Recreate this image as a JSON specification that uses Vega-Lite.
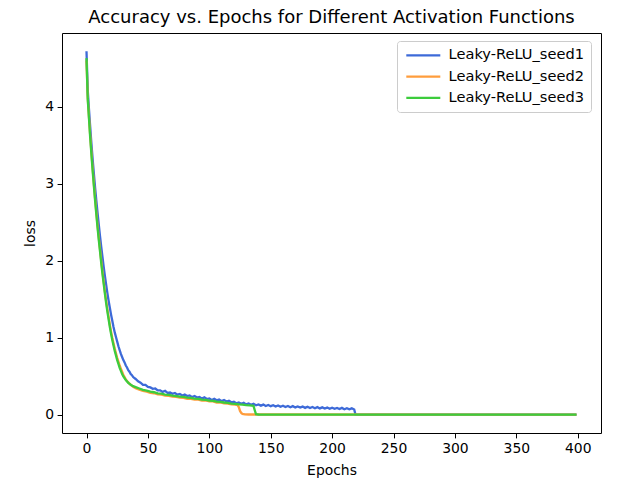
{
  "$schema": "https://vega.github.io/schema/vega-lite/v6.json",
  "width": 539,
  "height": 400,
  "autosize": "none",
  "padding": {"left": 62, "top": 33, "right": 27, "bottom": 50},
  "background": "white",
  "title": {
    "text": "Accuracy vs. Epochs for Different Activation Functions",
    "font": "DejaVu Sans",
    "fontSize": 18,
    "fontWeight": "normal",
    "color": "black",
    "anchor": "middle",
    "offset": 6
  },
  "datasets": {
    "s1": [
      {"epoch":0,"loss":4.72},{"epoch":1,"loss":4.22},{"epoch":2,"loss":3.97},{"epoch":3,"loss":3.74},{"epoch":4,"loss":3.52},{"epoch":5,"loss":3.32},{"epoch":6,"loss":3.13},{"epoch":7,"loss":2.95},{"epoch":8,"loss":2.78},{"epoch":9,"loss":2.62},{"epoch":10,"loss":2.47},{"epoch":11,"loss":2.32},{"epoch":12,"loss":2.18},{"epoch":13,"loss":2.05},{"epoch":14,"loss":1.92},{"epoch":15,"loss":1.8},{"epoch":16,"loss":1.69},{"epoch":17,"loss":1.58},{"epoch":18,"loss":1.48},{"epoch":19,"loss":1.39},{"epoch":20,"loss":1.3},{"epoch":21,"loss":1.22},{"epoch":22,"loss":1.14},{"epoch":23,"loss":1.07},{"epoch":24,"loss":1.01},{"epoch":25,"loss":0.95},{"epoch":26,"loss":0.89},{"epoch":27,"loss":0.84},{"epoch":28,"loss":0.79},{"epoch":29,"loss":0.75},{"epoch":30,"loss":0.71},{"epoch":31,"loss":0.68},{"epoch":32,"loss":0.64},{"epoch":33,"loss":0.615},{"epoch":34,"loss":0.58},{"epoch":35,"loss":0.56},{"epoch":36,"loss":0.53},{"epoch":37,"loss":0.515},{"epoch":38,"loss":0.49},
      {"epoch":40,"loss":0.465},{"epoch":42,"loss":0.435},{"epoch":44,"loss":0.418},{"epoch":46,"loss":0.39},{"epoch":48,"loss":0.388},{"epoch":50,"loss":0.362},{"epoch":52,"loss":0.356},{"epoch":54,"loss":0.338},{"epoch":56,"loss":0.342},{"epoch":58,"loss":0.318},{"epoch":60,"loss":0.318},{"epoch":62,"loss":0.298},{"epoch":64,"loss":0.312},{"epoch":66,"loss":0.285},{"epoch":68,"loss":0.289},{"epoch":70,"loss":0.272},{"epoch":72,"loss":0.283},{"epoch":74,"loss":0.262},{"epoch":76,"loss":0.271},{"epoch":78,"loss":0.25},{"epoch":80,"loss":0.262},{"epoch":82,"loss":0.243},{"epoch":84,"loss":0.251},{"epoch":86,"loss":0.23},{"epoch":88,"loss":0.244},{"epoch":90,"loss":0.224},{"epoch":92,"loss":0.231},{"epoch":94,"loss":0.21},{"epoch":96,"loss":0.226},{"epoch":98,"loss":0.205},{"epoch":100,"loss":0.212},{"epoch":102,"loss":0.193},{"epoch":104,"loss":0.208},{"epoch":106,"loss":0.188},{"epoch":108,"loss":0.198},{"epoch":110,"loss":0.178},{"epoch":112,"loss":0.191},{"epoch":114,"loss":0.172},{"epoch":116,"loss":0.183},{"epoch":118,"loss":0.163},{"epoch":120,"loss":0.17},{"epoch":122,"loss":0.15},{"epoch":124,"loss":0.16},{"epoch":126,"loss":0.143},{"epoch":128,"loss":0.155},{"epoch":130,"loss":0.135},{"epoch":132,"loss":0.148},{"epoch":134,"loss":0.13},{"epoch":136,"loss":0.142},{"epoch":138,"loss":0.124},{"epoch":140,"loss":0.135},{"epoch":142,"loss":0.119},{"epoch":144,"loss":0.133},{"epoch":146,"loss":0.114},{"epoch":148,"loss":0.127},{"epoch":150,"loss":0.112},{"epoch":152,"loss":0.124},{"epoch":154,"loss":0.107},{"epoch":156,"loss":0.122},{"epoch":158,"loss":0.104},{"epoch":160,"loss":0.117},{"epoch":162,"loss":0.102},{"epoch":164,"loss":0.115},{"epoch":166,"loss":0.098},{"epoch":168,"loss":0.113},{"epoch":170,"loss":0.096},{"epoch":172,"loss":0.109},{"epoch":174,"loss":0.094},{"epoch":176,"loss":0.107},{"epoch":178,"loss":0.09},{"epoch":180,"loss":0.105},{"epoch":182,"loss":0.089},{"epoch":184,"loss":0.101},{"epoch":186,"loss":0.086},{"epoch":188,"loss":0.1},{"epoch":190,"loss":0.083},{"epoch":192,"loss":0.097},{"epoch":194,"loss":0.082},{"epoch":196,"loss":0.094},{"epoch":198,"loss":0.078},{"epoch":200,"loss":0.093},{"epoch":202,"loss":0.079},{"epoch":204,"loss":0.09},{"epoch":206,"loss":0.075},{"epoch":208,"loss":0.09},{"epoch":210,"loss":0.073},{"epoch":212,"loss":0.086},{"epoch":214,"loss":0.071},{"epoch":216,"loss":0.084},{"epoch":218,"loss":0.068},{"epoch":219,"loss":0.004},{"epoch":220,"loss":0.003},{"epoch":399,"loss":0.003}
    ],
    "s2": [
      {"epoch":0,"loss":4.6},{"epoch":1,"loss":4.12},{"epoch":2,"loss":3.87},{"epoch":3,"loss":3.63},{"epoch":4,"loss":3.41},{"epoch":5,"loss":3.2},{"epoch":6,"loss":3.0},{"epoch":7,"loss":2.81},{"epoch":8,"loss":2.63},{"epoch":9,"loss":2.46},{"epoch":10,"loss":2.3},{"epoch":11,"loss":2.15},{"epoch":12,"loss":2.0},{"epoch":13,"loss":1.86},{"epoch":14,"loss":1.73},{"epoch":15,"loss":1.6},{"epoch":16,"loss":1.48},{"epoch":17,"loss":1.37},{"epoch":18,"loss":1.27},{"epoch":19,"loss":1.17},{"epoch":20,"loss":1.08},{"epoch":21,"loss":1.0},{"epoch":22,"loss":0.93},{"epoch":23,"loss":0.86},{"epoch":24,"loss":0.8},{"epoch":25,"loss":0.74},{"epoch":26,"loss":0.69},{"epoch":27,"loss":0.64},{"epoch":28,"loss":0.6},{"epoch":29,"loss":0.56},{"epoch":30,"loss":0.52},{"epoch":32,"loss":0.46},{"epoch":34,"loss":0.42},{"epoch":36,"loss":0.39},{"epoch":38,"loss":0.365},{"epoch":40,"loss":0.345},{"epoch":43,"loss":0.325},{"epoch":46,"loss":0.31},{"epoch":49,"loss":0.3},{"epoch":52,"loss":0.286},{"epoch":55,"loss":0.28},{"epoch":58,"loss":0.266},{"epoch":61,"loss":0.262},{"epoch":64,"loss":0.25},{"epoch":67,"loss":0.247},{"epoch":70,"loss":0.236},{"epoch":73,"loss":0.232},{"epoch":76,"loss":0.222},{"epoch":79,"loss":0.22},{"epoch":82,"loss":0.207},{"epoch":85,"loss":0.206},{"epoch":88,"loss":0.197},{"epoch":91,"loss":0.196},{"epoch":94,"loss":0.186},{"epoch":97,"loss":0.186},{"epoch":100,"loss":0.175},{"epoch":103,"loss":0.174},{"epoch":106,"loss":0.158},{"epoch":109,"loss":0.16},{"epoch":112,"loss":0.15},{"epoch":115,"loss":0.146},{"epoch":118,"loss":0.136},{"epoch":121,"loss":0.131},{"epoch":123,"loss":0.125},{"epoch":124,"loss":0.1},{"epoch":125,"loss":0.05},{"epoch":126,"loss":0.025},{"epoch":127,"loss":0.012},{"epoch":129,"loss":0.006},{"epoch":132,"loss":0.004},{"epoch":399,"loss":0.003}
    ],
    "s3": [
      {"epoch":0,"loss":4.63},{"epoch":1,"loss":4.1},{"epoch":2,"loss":3.85},{"epoch":3,"loss":3.6},{"epoch":4,"loss":3.38},{"epoch":5,"loss":3.17},{"epoch":6,"loss":2.97},{"epoch":7,"loss":2.78},{"epoch":8,"loss":2.6},{"epoch":9,"loss":2.43},{"epoch":10,"loss":2.27},{"epoch":11,"loss":2.12},{"epoch":12,"loss":1.97},{"epoch":13,"loss":1.83},{"epoch":14,"loss":1.7},{"epoch":15,"loss":1.57},{"epoch":16,"loss":1.45},{"epoch":17,"loss":1.34},{"epoch":18,"loss":1.24},{"epoch":19,"loss":1.14},{"epoch":20,"loss":1.05},{"epoch":21,"loss":0.97},{"epoch":22,"loss":0.9},{"epoch":23,"loss":0.83},{"epoch":24,"loss":0.77},{"epoch":25,"loss":0.71},{"epoch":26,"loss":0.66},{"epoch":27,"loss":0.61},{"epoch":28,"loss":0.57},{"epoch":29,"loss":0.53},{"epoch":30,"loss":0.5},{"epoch":32,"loss":0.45},{"epoch":34,"loss":0.415},{"epoch":36,"loss":0.39},{"epoch":38,"loss":0.372},{"epoch":40,"loss":0.36},{"epoch":43,"loss":0.342},{"epoch":46,"loss":0.325},{"epoch":49,"loss":0.314},{"epoch":52,"loss":0.3},{"epoch":55,"loss":0.293},{"epoch":58,"loss":0.278},{"epoch":61,"loss":0.274},{"epoch":64,"loss":0.262},{"epoch":67,"loss":0.259},{"epoch":70,"loss":0.248},{"epoch":73,"loss":0.244},{"epoch":76,"loss":0.235},{"epoch":79,"loss":0.232},{"epoch":82,"loss":0.222},{"epoch":85,"loss":0.219},{"epoch":88,"loss":0.21},{"epoch":91,"loss":0.207},{"epoch":94,"loss":0.198},{"epoch":97,"loss":0.194},{"epoch":100,"loss":0.185},{"epoch":103,"loss":0.182},{"epoch":106,"loss":0.172},{"epoch":109,"loss":0.168},{"epoch":112,"loss":0.16},{"epoch":115,"loss":0.155},{"epoch":118,"loss":0.146},{"epoch":121,"loss":0.143},{"epoch":124,"loss":0.135},{"epoch":127,"loss":0.133},{"epoch":130,"loss":0.125},{"epoch":133,"loss":0.122},{"epoch":136,"loss":0.116},{"epoch":137,"loss":0.06},{"epoch":138,"loss":0.008},{"epoch":140,"loss":0.004},{"epoch":399,"loss":0.003}
    ]
  },
  "layer": [
    {
      "data": {"name": "s1"},
      "transform": [{"calculate": "'Leaky-ReLU_seed1'", "as": "run"}],
      "mark": {"type": "line", "strokeWidth": 2.3},
      "encoding": {
        "x": {"field": "epoch", "type": "quantitative"},
        "y": {"field": "loss", "type": "quantitative"},
        "color": {"field": "run", "type": "nominal"}
      }
    },
    {
      "data": {"name": "s2"},
      "transform": [{"calculate": "'Leaky-ReLU_seed2'", "as": "run"}],
      "mark": {"type": "line", "strokeWidth": 2.3},
      "encoding": {
        "x": {"field": "epoch", "type": "quantitative"},
        "y": {"field": "loss", "type": "quantitative"},
        "color": {"field": "run", "type": "nominal"}
      }
    },
    {
      "data": {"name": "s3"},
      "transform": [{"calculate": "'Leaky-ReLU_seed3'", "as": "run"}],
      "mark": {"type": "line", "strokeWidth": 2.3},
      "encoding": {
        "x": {"field": "epoch", "type": "quantitative", "scale": {"domain": [-19.95, 418.95], "nice": false, "zero": false}, "axis": {"values": [0,50,100,150,200,250,300,350,400], "title": "Epochs", "format": "d"}},
        "y": {"field": "loss", "type": "quantitative", "scale": {"domain": [-0.236, 4.956], "nice": false, "zero": false}, "axis": {"values": [0,1,2,3,4], "title": "loss", "format": "d"}},
        "color": {
          "field": "run", "type": "nominal",
          "scale": {"domain": ["Leaky-ReLU_seed1","Leaky-ReLU_seed2","Leaky-ReLU_seed3"], "range": ["#3d6ad8","#ff9d3c","#3ccc3c"]},
          "legend": {"title": null, "orient": "none", "legendX": 335, "legendY": 8}
        }
      }
    }
  ],
  "config": {
    "view": {"stroke": "black", "strokeWidth": 1},
    "axis": {
      "domain": false, "grid": false,
      "tickColor": "black", "tickSize": 4.9, "tickWidth": 1,
      "labelFont": "DejaVu Sans", "labelFontSize": 13.9, "labelColor": "black", "labelPadding": 3.5,
      "titleFont": "DejaVu Sans", "titleFontSize": 13.9, "titleFontWeight": "normal", "titleColor": "black"
    },
    "axisX": {"titlePadding": 8},
    "axisY": {"titlePadding": 7, "labelFlush": false},
    "legend": {
      "fillColor": "white", "strokeColor": "#cccccc", "cornerRadius": 3, "padding": 7,
      "symbolType": "M-1,0H5.8", "symbolSize": 100, "symbolStrokeWidth": 2.3, "symbolFillColor": "transparent",
      "labelFont": "DejaVu Sans", "labelFontSize": 14.6, "labelColor": "black", "labelOffset": 30,
      "rowPadding": 6.3
    }
  }
}
